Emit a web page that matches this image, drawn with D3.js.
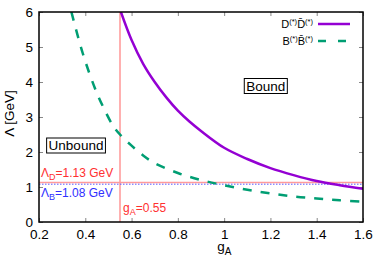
<!DOCTYPE html>
<html>
<head>
<meta charset="utf-8">
<script src="https://cdn.jsdelivr.net/npm/d3@7"></script>
<style>
  body { margin: 0; background: #fff; }
  text { font-family: "Liberation Sans", Arial, sans-serif; }
</style>
</head>
<body>
<div id="chart"></div>
<script>
// curves
const gD = [0.554, 0.6, 0.65, 0.7, 0.75, 0.8, 0.85, 0.9, 1.0, 1.1, 1.2, 1.3, 1.4, 1.5, 1.6];
const lamD = [6.0, 5.2, 4.52, 4.0, 3.56, 3.18, 2.87, 2.6, 2.12, 1.8, 1.54, 1.34, 1.17, 1.05, 0.95];
const gB = [0.34, 0.39, 0.44, 0.48, 0.52, 0.55, 0.6, 0.65, 0.7, 0.8, 0.9, 1.0, 1.1, 1.2, 1.3, 1.4, 1.5, 1.6];
const lamB = [6.0, 4.8, 3.85, 3.25, 2.75, 2.5, 2.18, 1.9, 1.68, 1.4, 1.2, 1.05, 0.92, 0.82, 0.73, 0.67, 0.62, 0.58];
const xTicks = [0.2, 0.4, 0.6, 0.8, 1, 1.2, 1.4, 1.6];
const yTicks = [0, 1, 2, 3, 4, 5, 6];
const lambdaD = 1.13, lambdaB = 1.08, gA = 0.55;

const width = 382, height = 267;
const margin = { top: 12, right: 19, bottom: 45, left: 39 };
const w = width - margin.left - margin.right;
const h = height - margin.top - margin.bottom;

const svg = d3.select("#chart").append("svg")
    .attr("width", width)
    .attr("height", height);
const g = svg.append("g").attr("transform", `translate(${margin.left},${margin.top})`);

const x = d3.scaleLinear().domain([0.2, 1.6]).range([0, w]);
const y = d3.scaleLinear().domain([0, 6]).range([h, 0]);

svg.append("clipPath").attr("id", "clip")
    .append("rect").attr("width", w).attr("height", h);

// axes with inward ticks, mirrored on top/right
g.append("g").attr("transform", `translate(0,${h})`)
    .call(d3.axisBottom(x).tickValues(xTicks).tickSize(-4).tickPadding(7).tickFormat(d3.format("")))
    .call(a => a.select(".domain").remove());
g.append("g")
    .call(d3.axisTop(x).tickValues(xTicks).tickSize(-4).tickFormat(""))
    .call(a => a.select(".domain").remove());
g.append("g")
    .call(d3.axisLeft(y).tickValues(yTicks).tickSize(-4).tickPadding(6).tickFormat(d3.format("d")))
    .call(a => a.select(".domain").remove());
g.append("g").attr("transform", `translate(${w},0)`)
    .call(d3.axisRight(y).tickValues(yTicks).tickSize(-4).tickFormat(""))
    .call(a => a.select(".domain").remove());
g.selectAll(".tick line").attr("stroke", "#888");
g.selectAll(".tick text").attr("font-size", 13.5).attr("fill", "#000")
    .style("font-family", "Liberation Sans, Arial, sans-serif");

const plot = g.append("g").attr("clip-path", "url(#clip)");

// reference lines
plot.append("line")
    .attr("x1", x(gA)).attr("x2", x(gA)).attr("y1", 0).attr("y2", h)
    .attr("stroke", "#ffb0b0").attr("stroke-width", 2);
plot.append("line")
    .attr("x1", 0).attr("x2", w).attr("y1", y(lambdaD)).attr("y2", y(lambdaD))
    .attr("stroke", "#ff9a9a").attr("stroke-width", 1.5);
plot.append("line")
    .attr("x1", 0).attr("x2", w).attr("y1", y(lambdaB)).attr("y2", y(lambdaB))
    .attr("stroke", "#5a5aff").attr("stroke-width", 1).attr("stroke-dasharray", "1.5,1.5");

const line = d3.line().curve(d3.curveCatmullRom.alpha(0.5));

plot.append("path")
    .attr("d", line(gB.map((v, i) => [x(v), y(lamB[i])])))
    .attr("fill", "none").attr("stroke", "#009e73").attr("stroke-width", 2.5)
    .attr("stroke-dasharray", "9,9");
plot.append("path")
    .attr("d", line(gD.map((v, i) => [x(v), y(lamD[i])])))
    .attr("fill", "none").attr("stroke", "#9400d3").attr("stroke-width", 2.5);

// frame
g.append("rect").attr("width", w).attr("height", h)
    .attr("fill", "none").attr("stroke", "#000").attr("stroke-width", 1.5);

// annotations
function boxed(cx, cy, label) {
    const t = g.append("text").attr("x", cx).attr("y", cy + 5)
        .attr("text-anchor", "middle").attr("font-size", 13.5).text(label);
    const b = t.node().getBBox();
    g.insert("rect", () => t.node())
        .attr("x", b.x - 2).attr("y", b.y).attr("width", b.width + 4).attr("height", b.height)
        .attr("fill", "#fff").attr("stroke", "#000").attr("stroke-width", 1);
}
boxed(x(0.36), y(2.2), "Unbound");
boxed(x(1.18), y(3.9), "Bound");

const lD = g.append("text").attr("x", 2).attr("y", y(lambdaD) - 5)
    .attr("font-size", 12).attr("fill", "#ff3030");
lD.append("tspan").text("Λ");
lD.append("tspan").attr("dy", 3).attr("font-size", 9).text("D");
lD.append("tspan").attr("dy", -3).text("=1.13 GeV");

const lB = g.append("text").attr("x", 2).attr("y", y(lambdaB) + 13)
    .attr("font-size", 12).attr("fill", "#3030ff");
lB.append("tspan").text("Λ");
lB.append("tspan").attr("dy", 3).attr("font-size", 9).text("B");
lB.append("tspan").attr("dy", -3).text("=1.08 GeV");

const lg = g.append("text").attr("x", x(gA) + 3).attr("y", h - 10)
    .attr("font-size", 12).attr("fill", "#ff3030");
lg.append("tspan").text("g");
lg.append("tspan").attr("dy", 3).attr("font-size", 9).text("A");
lg.append("tspan").attr("dy", -3).text("=0.55");

// axis titles
const xt = svg.append("text").attr("x", margin.left + x(0.97)).attr("y", height - 16)
    .attr("font-size", 13.5);
xt.append("tspan").text("g");
xt.append("tspan").attr("dy", 4).attr("font-size", 10).text("A");

svg.append("text")
    .attr("transform", `translate(14,${margin.top + y(3.1)}) rotate(-90)`)
    .attr("text-anchor", "middle").attr("font-size", 13.5).text("Λ [GeV]");

// legend
const legend = [
    { name: ["D", "D̄"], color: "#9400d3", dash: null },
    { name: ["B", "B̄"], color: "#009e73", dash: "8,12" }
];
legend.forEach((d, i) => {
    const ly = 12 + i * 17;
    const t = g.append("text").attr("x", w - 50).attr("y", ly + 4)
        .attr("text-anchor", "end").attr("font-size", 11);
    t.append("tspan").text(d.name[0]);
    t.append("tspan").attr("dy", -4).attr("font-size", 7.5).text("(*)");
    t.append("tspan").attr("dy", 4).text(d.name[1]);
    t.append("tspan").attr("dy", -4).attr("font-size", 7.5).text("(*)");
    g.append("line").attr("x1", w - 45).attr("x2", w - 13).attr("y1", ly).attr("y2", ly)
        .attr("stroke", d.color).attr("stroke-width", 2.5)
        .attr("stroke-dasharray", d.dash);
});
</script>
</body>
</html>
